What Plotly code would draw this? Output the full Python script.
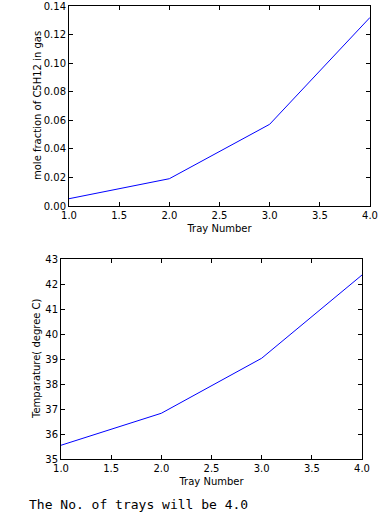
import plotly.graph_objects as go

trays = [1, 2, 3, 4]
mole_frac = [0.0051, 0.0191, 0.0572, 0.132]
temps = [35.55, 36.83, 39.03, 42.36]
result_text = "The No. of trays will be 4.0"
y1_title = "mole fraction of C5H12 in gas"
y2_title = "Temparature( degree C)"
x_title = "Tray Number"

W, H = 389, 516

fig = go.Figure()
fig.add_trace(go.Scatter(x=trays, y=mole_frac, mode="lines",
                         line=dict(color="#0000ff", width=1), xaxis="x", yaxis="y"))
fig.add_trace(go.Scatter(x=trays, y=temps, mode="lines",
                         line=dict(color="#0000ff", width=1), xaxis="x2", yaxis="y2"))

tick_font = dict(family="DejaVu Sans", size=10, color="black")
title_font = dict(family="DejaVu Sans", size=10, color="black")

common = dict(showgrid=False, zeroline=False, showline=True, linecolor="black",
              linewidth=1, mirror="ticks", ticks="inside", ticklen=4,
              tickcolor="black", tickfont=tick_font, automargin=False)

fig.update_layout(
    width=W, height=H,
    margin=dict(l=0, r=0, t=0, b=0, autoexpand=False),
    paper_bgcolor="white", plot_bgcolor="white",
    showlegend=False,
    xaxis=dict(domain=[69 / W, 370 / W], range=[1, 4], dtick=0.5, tickformat=".1f",
               anchor="y", title=dict(text=x_title, font=title_font, standoff=4), **common),
    yaxis=dict(domain=[1 - 206 / H, 1 - 6 / H], range=[0, 0.14], dtick=0.02, tickformat=".2f",
               anchor="x", **common),
    xaxis2=dict(domain=[61 / W, 362 / W], range=[1, 4], dtick=0.5, tickformat=".1f",
                anchor="y2", title=dict(text=x_title, font=title_font, standoff=4), **common),
    yaxis2=dict(domain=[1 - 459 / H, 1 - 259 / H], range=[35, 43], dtick=1,
                anchor="x2", **common),
    annotations=[
        dict(text=result_text, x=27 / W, y=1 - 504 / H, xref="paper", yref="paper",
             xanchor="left", yanchor="middle", showarrow=False,
             font=dict(family="DejaVu Sans Mono", size=13, color="black")),
        dict(text=y1_title, x=37 / W, y=1 - 106 / H, xref="paper", yref="paper",
             xanchor="center", yanchor="middle", textangle=-90, showarrow=False,
             font=title_font),
        dict(text=y2_title, x=36 / W, y=1 - 359 / H, xref="paper", yref="paper",
             xanchor="center", yanchor="middle", textangle=-90, showarrow=False,
             font=title_font),
    ],
)

fig.write_html("out.html", config={"displayModeBar": False},
               post_script="document.body.style.margin='0';document.body.style.overflow='hidden';")
